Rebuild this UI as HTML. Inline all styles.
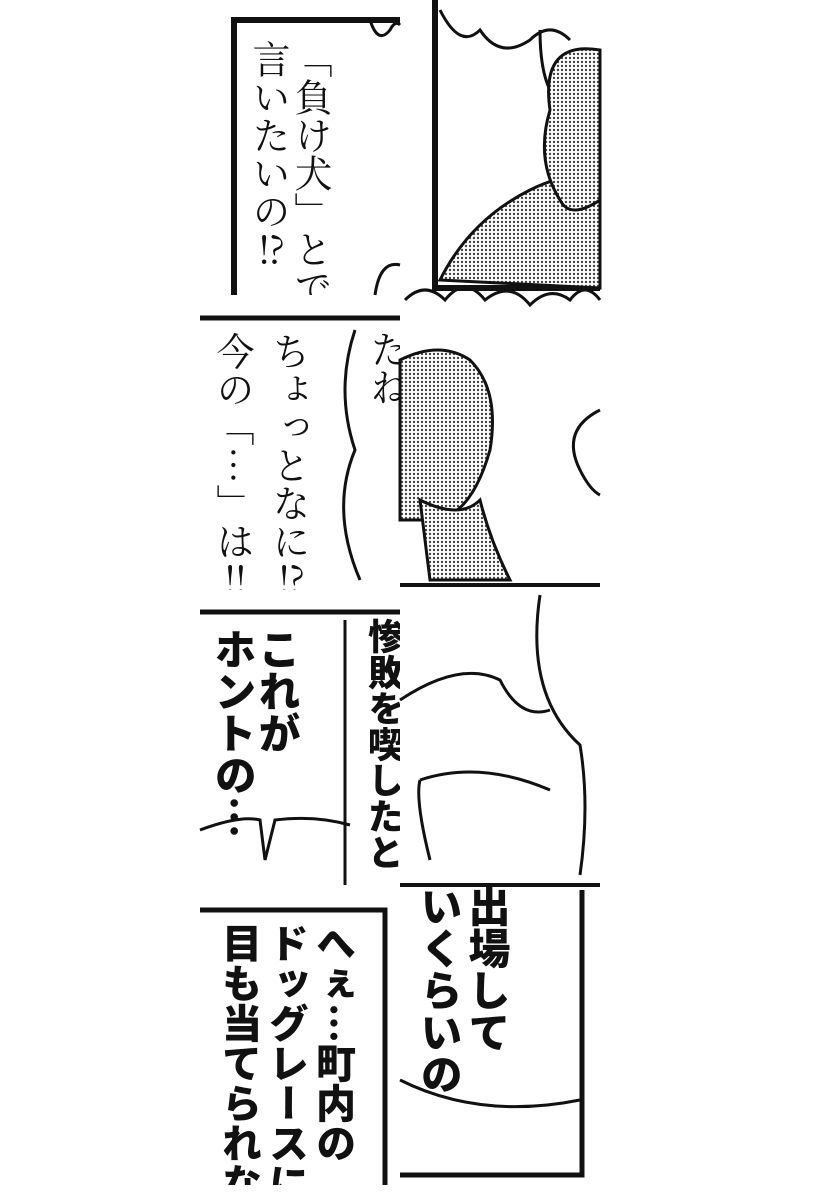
<!DOCTYPE html>
<html><head><meta charset="utf-8"><style>
body{margin:0;width:820px;height:1200px;background:#fff;position:relative;overflow:hidden;font-family:"Liberation Sans","Noto Sans CJK JP",sans-serif;color:#111}
.a{position:absolute}
.t{position:absolute;overflow:hidden}
.v{position:absolute;writing-mode:vertical-rl;font-size:38px;line-height:1;white-space:nowrap;font-family:"Noto Serif CJK SC","Noto Sans CJK JP",serif}
.b{font-family:"Noto Sans CJK JP",sans-serif;font-weight:900;font-size:42px}
</style></head><body>
<svg class="a" style="left:0;top:0" width="820" height="1200">
<defs><pattern id="d" width="4" height="4" patternUnits="userSpaceOnUse"><rect width="4" height="4" fill="#fff"/><circle cx="2" cy="2" r="1.2" fill="#444"/></pattern></defs>
<g stroke="#111" fill="none" stroke-width="3">
<path d="M234 295 V20 H400" stroke-width="6"/>
<path d="M370 20 q8 25 20 10 q5 -10 10 -5"/>
<path d="M375 295 q5 -35 25 -30"/>
<path d="M435 0 V288 H600" stroke-width="6"/>
<path d="M440 10 q20 40 40 20 q20 30 50 10 q20 -20 40 0"/>
<path d="M540 30 q0 40 10 60 q20 -40 50 -40"/>
<path d="M440 280 q30 -60 90 -90 q40 -20 70 -10 V288 Z" fill="url(#d)"/>
<path d="M550 110 q-10 -70 50 -60 V200 q-30 20 -40 0 q-25 -40 -10 -90Z" fill="url(#d)"/>
<path d="M200 318 H400" stroke-width="5"/>
<path d="M355 330 q-20 60 0 120 q-25 60 5 130"/>
<path d="M405 300 q20 -20 40 0 q20 -25 40 0 q25 -20 45 5 q20 -20 40 -5 q15 -20 30 0"/>
<path d="M400 360 q40 -20 70 0 q30 30 20 90 q-20 70 -60 70 H400 Z" fill="url(#d)"/>
<path d="M420 500 q40 20 60 0 q10 40 30 80 H430 Z" fill="url(#d)"/>
<path d="M600 410 q-40 20 -20 60 q10 20 20 25"/>
<path d="M400 585 H600" stroke-width="4"/>
<path d="M200 612 H400" stroke-width="5"/>
<path d="M200 830 q40 -15 60 -10 l5 40 l10 -40 q40 -5 75 5"/>
<path d="M345 620 V885"/>
<path d="M540 595 q-15 100 40 150 q10 60 0 130"/>
<path d="M400 700 q60 -40 100 -20 q20 40 50 30 M420 780 q60 -20 130 10 M430 860 q-15 -60 -10 -80"/>
<path d="M400 885 H600" stroke-width="4"/>
<path d="M200 910 H385 V1185" stroke-width="5"/>
<path d="M582 890 V1175 H400" stroke-width="5"/>
<path d="M400 1080 q80 40 180 20"/>
</g>
</svg>
<div class="t" style="left:200px;top:0;width:200px;height:295px">
<div class="v" style="left:94px;top:40px">「負け犬」とでも</div>
<div class="v" style="left:52px;top:40px">言いたいの⁉</div>
</div>
<div class="t" style="left:200px;top:320px;width:200px;height:270px">
<div class="v" style="left:72px;top:12px">ちょっとなに⁉</div>
<div class="v" style="left:16px;top:12px">今の「…」は‼</div>
<div class="v" style="left:170px;top:10px">たね</div>
</div>
<div class="t" style="left:200px;top:590px;width:200px;height:295px">
<div class="v b" style="left:58px;top:38px">これが</div>
<div class="v b" style="left:14px;top:38px">ホントの…</div>
<div class="v b" style="left:168px;top:28px;font-size:36px">惨敗を喫したと</div>
</div>
<div class="t" style="left:200px;top:885px;width:200px;height:300px">
<div class="v b" style="left:116px;top:38px;font-size:40px">へぇ…町内の</div>
<div class="v b" style="left:69px;top:38px;font-size:40px">ドッグレースに</div>
<div class="v b" style="left:22px;top:38px;font-size:40px">目も当てられな</div>
</div>
<div class="t" style="left:400px;top:885px;width:200px;height:300px">
<div class="v b" style="left:68px;top:0px">出場して</div>
<div class="v b" style="left:20px;top:0px">いくらいの</div>
</div>
</body></html>
